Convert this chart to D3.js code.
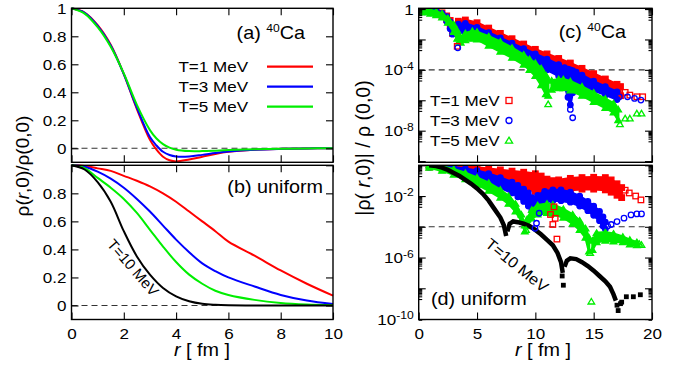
<!DOCTYPE html>
<html><head><meta charset="utf-8">
<script src="https://cdn.jsdelivr.net/npm/d3@7"></script>
<style>
body{margin:0;background:#fff}
svg{display:block}
text{font-family:"Liberation Sans",Arial,Helvetica,sans-serif;fill:#000}
</style></head>
<body><svg id="c" width="692" height="369"></svg>
<script>
// ---------------- DATA ----------------
// (a) 40Ca, rho(r,0)/rho(0,0)
const rA   = [0,0.5,1,1.5,2,2.5,3,3.25,3.5,3.75,4,4.5,5,5.5,6,7,8,9,10];
const caT1 = [1,0.97,0.88,0.74,0.53,0.28,0.06,-0.01,-0.06,-0.085,-0.094,-0.08,-0.06,-0.04,-0.025,-0.01,-0.004,-0.001,0];
const caT3 = [1,0.968,0.875,0.735,0.53,0.29,0.08,0.02,-0.025,-0.048,-0.058,-0.058,-0.047,-0.034,-0.023,-0.01,-0.004,-0.001,0];
const caT5 = [1,0.962,0.865,0.725,0.535,0.31,0.13,0.07,0.03,0.005,-0.01,-0.02,-0.02,-0.017,-0.013,-0.007,-0.003,-0.001,0];
// (b) uniform
const rB    = [0,0.5,1,1.5,2,2.5,3,3.5,4,4.5,5,5.5,6,7,8,9,10];
const uT1   = [1,0.995,0.978,0.96,0.925,0.89,0.85,0.8,0.74,0.67,0.6,0.53,0.455,0.355,0.25,0.155,0.07];
const uT3   = [1,0.99,0.955,0.905,0.84,0.76,0.67,0.57,0.47,0.38,0.3,0.245,0.2,0.135,0.075,0.035,0.01];
const uT5   = [1,0.98,0.91,0.84,0.76,0.66,0.54,0.42,0.31,0.22,0.155,0.105,0.075,0.04,0.018,0.007,0.002];
const uT10  = [1,0.97,0.88,0.74,0.53,0.35,0.22,0.125,0.065,0.03,0.012,0.005,0.002,0,0,0,0];
const legendT = ["T=1 MeV","T=3 MeV","T=5 MeV"];
const colors  = ["#ff0000","#0000ff","#00ee00"];

// (c),(d): log10 of |rho(r,0)|/rho(0,0); bands are [r, upper, lower], isolated points are [r, value]
const cRedA   = [[0,0,-0.12],[0.5,-0.02,-0.15],[1,-0.06,-0.2],[1.5,-0.12,-0.3],[2,-0.25,-0.45],[2.4,-0.45,-0.7],[2.7,-0.75,-1.1],[2.9,-1.1,-1.6]];
const cRedB   = [[3.4,-0.8,-1.3],[4,-0.72,-1.4],[5,-0.9,-1.6],[6,-1.25,-1.95],[7,-1.6,-2.3],[8,-1.95,-2.65],[9,-2.3,-3.0],[10,-2.65,-3.35],[11,-2.95,-3.65],[12,-3.25,-3.95],[13,-3.55,-4.25],[14,-3.9,-4.6],[15,-4.25,-4.95],[16,-4.6,-5.3],[17,-4.95,-5.6],[17.3,-5.1,-5.7]];
const cRedIso = [[3.3,-2.45],[17.7,-5.48],[18.1,-5.66],[18.7,-5.77],[19.2,-5.77]];
const cBlueA  = [[0,0,-0.15],[0.5,-0.03,-0.18],[1,-0.07,-0.25],[1.5,-0.13,-0.35],[2,-0.28,-0.5],[2.4,-0.5,-0.8],[2.7,-0.85,-1.3],[2.9,-1.2,-1.65]];
const cBlueB  = [[3.4,-1.0,-1.5],[4,-0.95,-1.6],[5,-1.2,-1.9],[6,-1.55,-2.25],[7,-1.9,-2.6],[8,-2.25,-2.95],[9,-2.6,-3.3],[10,-2.95,-3.65],[11,-3.3,-4.0],[12,-3.65,-4.4],[12.5,-3.85,-5.0],[12.8,-3.95,-5.8],[13.0,-4.0,-6.3],[13.2,-4.05,-5.5],[13.5,-4.15,-4.9],[14,-4.35,-5.0],[15,-4.75,-5.35],[16,-5.1,-5.65],[17,-5.45,-5.95]];
const cBlueIso= [[3.35,-2.55],[13.0,-6.6],[13.2,-7.15],[17.2,-5.77],[17.9,-5.77],[18.5,-5.88],[19.05,-5.99]];
const cGreenA = [[0,0,-0.2],[0.5,-0.04,-0.22],[1,-0.08,-0.3],[1.5,-0.15,-0.4],[2,-0.3,-0.55],[2.5,-0.6,-0.9],[3,-1.0,-1.5],[3.3,-1.4,-1.95],[3.45,-1.8,-2.15]];
const cGreenB = [[3.6,-1.85,-2.2],[4,-1.6,-2.05],[4.6,-1.45,-1.95],[5,-1.5,-2.0],[6,-1.8,-2.4],[7,-2.15,-2.8],[8,-2.55,-3.2],[9,-3.0,-3.65],[9.5,-3.3,-4.0],[10,-3.55,-4.4],[10.5,-3.9,-5.0],[10.9,-4.35,-5.6],[11.1,-4.65,-5.7]];
const cGreenC = [[11.4,-4.7,-5.3],[12,-4.62,-5.2],[12.4,-4.62,-5.2],[13,-4.75,-5.35],[14,-5.1,-5.7],[15,-5.5,-6.1],[16,-5.9,-6.5],[16.7,-6.2,-6.8],[17.1,-6.6,-7.3]];
const cGreenIso=[[11.1,-6.25],[17.25,-7.57],[17.7,-7.19],[18.1,-7.19],[18.7,-6.86],[19.1,-6.86]];

const dRed    = [[0.9,0,-0.12],[2,-0.02,-0.2],[3,-0.05,-0.35],[4,-0.1,-0.5],[5,-0.15,-0.7],[6,-0.22,-0.9],[7,-0.3,-1.1],[8,-0.38,-1.3],[9,-0.45,-1.5],[10,-0.55,-1.7],[10.5,-0.7,-1.8],[11,-0.9,-1.95],[11.5,-1.0,-2.0],[12,-0.95,-1.8],[13,-0.85,-1.6],[14,-0.8,-1.55],[15,-0.78,-1.55],[16,-0.8,-1.6],[16.5,-0.95,-1.75],[17,-1.2,-1.95],[17.4,-1.45,-2.1]];
const dRedIso = [[11.3,-3.2],[11.5,-3.85],[11.7,-3.45],[11.85,-4.8],[11.6,-2.7],[17.7,-1.62],[18.05,-1.8],[18.6,-2.0],[19.05,-2.25]];
const dBlueA  = [[0.9,0,-0.12],[2,-0.05,-0.25],[3,-0.12,-0.45],[4,-0.22,-0.65],[5,-0.35,-0.9],[6,-0.55,-1.15],[7,-0.8,-1.45],[8,-1.1,-1.8],[8.5,-1.3,-2.05],[9,-1.55,-2.35],[9.4,-1.8,-2.65],[9.7,-2.1,-2.95]];
const dBlueB  = [[9.9,-2.2,-2.9],[10.2,-1.95,-2.6],[10.8,-1.7,-2.4],[11.5,-1.6,-2.3],[12.2,-1.6,-2.3],[13,-1.75,-2.4],[13.8,-2.0,-2.65],[14.5,-2.35,-2.95],[15,-2.65,-3.25],[15.5,-3.0,-3.6],[15.8,-3.35,-3.95],[16.0,-3.7,-4.15]];
const dBlueIso= [[9.97,-4.1],[10.1,-3.77],[10.33,-3.12],[16.2,-3.95],[16.5,-3.85],[17,-3.66],[17.6,-3.44],[18.2,-3.23],[18.7,-3.16],[19.1,-3.16]];
const dGreenA = [[0.9,0,-0.15],[2,-0.08,-0.35],[3,-0.25,-0.6],[4,-0.5,-0.9],[5,-0.8,-1.25],[6,-1.15,-1.65],[7,-1.6,-2.1],[7.7,-2.0,-2.5],[8.3,-2.5,-3.0],[8.8,-3.2,-3.6],[9.1,-3.9,-4.3]];
const dGreenB = [[9.3,-3.5,-3.95],[9.7,-2.9,-3.45],[10.2,-2.6,-3.2],[11,-2.5,-3.1],[11.5,-2.55,-3.15],[12.4,-2.85,-3.4],[13.2,-3.2,-3.8],[13.8,-3.6,-4.2],[14.3,-4.1,-4.7],[14.6,-4.7,-5.6]];
const dGreenC = [[14.9,-4.9,-5.5],[15.25,-4.4,-5.0],[16,-4.35,-4.9],[16.7,-4.45,-4.95],[17.5,-4.65,-5.0],[18.1,-4.85,-5.15],[18.7,-5.0,-5.2]];
const dGreenIso=[[9.2,-4.2],[14.7,-5.7],[14.8,-8.86],[18.9,-5.1],[19.1,-5.17]];
const dBlack1 = [[0.9,0],[1.5,-0.05],[2,-0.15],[2.5,-0.3],[3,-0.5],[3.5,-0.7],[4,-0.95],[4.5,-1.2],[5,-1.5],[5.5,-1.85],[6,-2.3],[6.5,-2.85],[7,-3.4],[7.3,-3.9],[7.5,-4.6]];
const dBlack2 = [[7.6,-4.3],[7.8,-3.8],[8.1,-3.65],[8.5,-3.7],[9,-3.8],[9.5,-3.95],[10,-4.2],[10.5,-4.5],[11,-4.85],[11.5,-5.2],[11.9,-5.7],[12.2,-6.3],[12.35,-7.0]];
const dBlack3 = [[12.5,-6.6],[12.7,-6.2],[13,-6.05],[13.5,-6.1],[14,-6.3],[14.5,-6.55],[15,-6.85],[15.5,-7.2],[16,-7.55],[16.4,-7.9],[16.7,-8.4],[16.9,-8.8]];
const dBlackIso=[[12.3,-7.2],[12.4,-7.8],[17.0,-9.1],[17.1,-9.45],[17.3,-9.0],[17.4,-8.9],[17.8,-8.55],[18.4,-8.55],[19.0,-8.42]];

const xTicksL = [0,2,4,6,8,10];
const yTicksA = [0,0.2,0.4,0.6,0.8,1];
const yTicksB = [0,0.2,0.4,0.6,0.8,1];
const xTicksR = [0,5,10,15,20];
const logMajor = [0,-2,-4,-6,-8,-10];
const logLabC = [0,-4,-8];
const logLabD = [-2,-6,-10];

// ---------------- SCALES ----------------
const svg = d3.select("#c");
const xL = d3.scaleLinear([0,10],[71.5,333]);
const xR = d3.scaleLinear([0,20],[418.7,652]);
const yA = d3.scaleLinear([-0.1,1],[162.3,8.3]);
const yB = d3.scaleLinear([-0.1,1],[319.5,165.3]);
const yC = d3.scaleLinear([-10.08,0.05],[162.3,8.3]);
const yD = d3.scaleLinear([-10.03,0],[319.5,165.3]);

const FS = 15.5;
function stretch(sel, sx){
  sel.selectAll("text").each(function(){
    const t=d3.select(this);
    const x=+(t.attr("x")||0), y=+(t.attr("y")||0);
    t.attr("x",null).attr("y",null).attr("transform",`translate(${x},${y}) scale(${sx},1)`);
  });
}
function txt(x,y,size,anchor,rot=0,sx=1.1){
  return svg.append("text").attr("transform",`translate(${x},${y}) rotate(${rot}) scale(${sx},1)`)
    .attr("text-anchor",anchor).attr("font-size",size);
}

function frame(x,y,xt,yt,opts){
  const [x0,x1]=x.range(), [yb,yt0]=y.range();
  const g = svg.append("g");
  const gb = g.append("g").attr("transform",`translate(0,${yb})`)
    .call(d3.axisBottom(x).tickValues(xt).tickSize(-7).tickPadding(8).tickFormat(opts.xlab?d3.format("d"):""));
  g.append("g").attr("transform",`translate(0,${yt0})`)
    .call(d3.axisTop(x).tickValues(xt).tickSize(-7).tickFormat(""));
  const gl = g.append("g").attr("transform",`translate(${x0},0)`)
    .call(d3.axisLeft(y).tickValues(yt).tickSize(-7).tickPadding(5).tickFormat(opts.yfmt||""));
  g.append("g").attr("transform",`translate(${x1},0)`)
    .call(d3.axisRight(y).tickValues(yt).tickSize(-7).tickFormat(""));
  if(opts.minor){
    g.append("g").attr("transform",`translate(${x0},0)`).call(d3.axisLeft(y).tickValues(opts.minor).tickSize(-3.5).tickFormat(""));
    g.append("g").attr("transform",`translate(${x1},0)`).call(d3.axisRight(y).tickValues(opts.minor).tickSize(-3.5).tickFormat(""));
  }
  g.selectAll(".domain").remove();
  g.selectAll(".tick line").attr("stroke","#000").attr("stroke-width",1.1);
  g.selectAll("text").attr("font-size",FS).attr("font-family","Liberation Sans, Arial, sans-serif").attr("fill","#000");
  stretch(gb,1.1); stretch(gl,1.1);
  g.append("rect").attr("x",x0).attr("y",yt0).attr("width",x1-x0).attr("height",yb-yt0)
    .attr("fill","none").attr("stroke","#000").attr("stroke-width",1.4);
  return gl;
}

// ---------------- (a) ----------------
const lineA = d3.line().curve(d3.curveCatmullRom.alpha(0.5));
function dashed(x,y,v){
  svg.append("line").attr("x1",x.range()[0]).attr("x2",x.range()[1]).attr("y1",y(v)).attr("y2",y(v))
   .attr("stroke","#333").attr("stroke-width",1.1).attr("stroke-dasharray","6,4");
}
dashed(xL,yA,0);
[caT1,caT3,caT5].forEach((s,i)=>{
  svg.append("path").attr("d",lineA(rA.map((r,j)=>[xL(r),yA(s[j])])))
    .attr("fill","none").attr("stroke",colors[i]).attr("stroke-width",2);
});
frame(xL,yA,xTicksL,yTicksA,{xlab:false,yfmt:d=>d===0?"0":d===1?"1":d3.format(".1f")(d)});
legendT.forEach((t,i)=>{
  const yy = 66.7 + 20*i;
  txt(248,yy+5.5,FS,"end").text(t);
  svg.append("line").attr("x1",267).attr("x2",313).attr("y1",yy).attr("y2",yy)
    .attr("stroke",colors[i]).attr("stroke-width",2.2);
});
{ const t=txt(305,39,18,"end"); t.append("tspan").text("(a) "); t.append("tspan").attr("font-size",11).attr("dy",-7).text("40"); t.append("tspan").attr("dy",7).text("Ca"); }

// ---------------- (b) ----------------
dashed(xL,yB,0);
[uT1,uT3,uT5,uT10].forEach((s,i)=>{
  svg.append("path").attr("d",lineA(rB.map((r,j)=>[xL(r),yB(s[j])])))
    .attr("fill","none").attr("stroke",i<3?colors[i]:"#000").attr("stroke-width",2);
});
frame(xL,yB,xTicksL,yTicksB,{xlab:true,yfmt:d=>d===0?"0":d===1?"":d3.format(".1f")(d)});
txt(323,193,18,"end").text("(b) uniform");
txt(129,271,15,"middle",49,1.0).text("T=10 MeV");

// ---------------- (c),(d) ----------------
svg.append("clipPath").attr("id","clipC").append("rect").attr("x",418.7).attr("y",8.3).attr("width",652-418.7).attr("height",162.3-8.3);
svg.append("clipPath").attr("id","clipD").append("rect").attr("x",418.7).attr("y",165.3).attr("width",652-418.7).attr("height",319.5-165.3);

function marker(g,type,x,y,color,filled,s){
  const f = filled?color:"none";
  if(type==="sq") g.append("rect").attr("x",x-s/2).attr("y",y-s/2).attr("width",s).attr("height",s).attr("fill",f).attr("stroke",color).attr("stroke-width",1.3);
  else if(type==="ci") g.append("circle").attr("cx",x).attr("cy",y).attr("r",s/2).attr("fill",f).attr("stroke",color).attr("stroke-width",1.3);
  else if(type==="tr") g.append("path").attr("d",`M${x},${y-s*0.55}L${x+s*0.6},${y+s*0.45}L${x-s*0.6},${y+s*0.45}Z`).attr("fill",f).attr("stroke",color).attr("stroke-width",1.3);
}
function band(g,y,data,color,type){
  const area = d3.area().x(d=>xR(d[0])).y1(d=>y(d[1])).y0(d=>y(d[2]));
  g.append("path").attr("d",area(data)).attr("fill",color).attr("stroke",color).attr("stroke-width",2.5);
  data.forEach(d=>{ marker(g,type,xR(d[0]),y(d[1]),color,true,5.5); marker(g,type,xR(d[0]),y(d[2]),color,true,5.5); });
}
function iso(g,y,data,color,type,filled=false,s=5.5){
  data.forEach(d=>marker(g,type,xR(d[0]),y(d[1]),color,filled,s));
}
const minors = [];
logMajor.forEach(k=>{ for(let m=2;m<=9;m++){ const v=k-1+Math.log10(m); if(v>=-10.08) minors.push(v);} });

// (c)
dashed(xR,yC,-4);
const gC = svg.append("g").attr("clip-path","url(#clipC)");
band(gC,yC,cRedA,colors[0],"sq"); band(gC,yC,cRedB,colors[0],"sq");
band(gC,yC,cBlueA,colors[1],"ci"); band(gC,yC,cBlueB,colors[1],"ci");
band(gC,yC,cGreenA,colors[2],"tr"); band(gC,yC,cGreenB,colors[2],"tr"); band(gC,yC,cGreenC,colors[2],"tr");
iso(gC,yC,cRedIso,colors[0],"sq"); iso(gC,yC,cBlueIso,colors[1],"ci"); iso(gC,yC,cGreenIso,colors[2],"tr");
function supLabels(gl){
  gl.selectAll(".tick text").each(function(d){
    const t=d3.select(this); const s=t.text(); if(!s) return;
    t.text(null);
    if(d===0){ t.append("tspan").text("1"); return; }
    t.append("tspan").text("10");
    t.append("tspan").attr("font-size",11).attr("dy","-0.5em").text(String(d));
  });
}
const lfC = frame(xR,yC,xTicksR,logMajor,{xlab:false,minor:minors,yfmt:d=>logLabC.includes(d)?"L":""});
supLabels(lfC);
{ const t=txt(626,38,18,"end"); t.append("tspan").text("(c) "); t.append("tspan").attr("font-size",11).attr("dy",-7).text("40"); t.append("tspan").attr("dy",7).text("Ca"); }
const mk = ["sq","ci","tr"];
legendT.forEach((t,i)=>{
  txt(430,106+20*i,FS,"start").text(t);
  marker(svg,mk[i],509,100.5+20*i,colors[i],false,6);
});

// (d)
dashed(xR,yD,-4);
const gD = svg.append("g").attr("clip-path","url(#clipD)");
band(gD,yD,dRed,colors[0],"sq");
band(gD,yD,dBlueA,colors[1],"ci"); band(gD,yD,dBlueB,colors[1],"ci");
band(gD,yD,dGreenA,colors[2],"tr"); band(gD,yD,dGreenB,colors[2],"tr"); band(gD,yD,dGreenC,colors[2],"tr");
const lineB = d3.line();
[dBlack1,dBlack2,dBlack3].forEach(s=>{
  gD.append("path").attr("d",lineB(s.map(d=>[xR(d[0]),yD(d[1])]))).attr("fill","none").attr("stroke","#000").attr("stroke-width",4.5);
});
iso(gD,yD,dRedIso,colors[0],"sq"); iso(gD,yD,dBlueIso,colors[1],"ci"); iso(gD,yD,dGreenIso,colors[2],"tr");
iso(gD,yD,dBlackIso,"#000","sq",true,3.5);
const lfD = frame(xR,yD,xTicksR,logMajor,{xlab:true,minor:minors,yfmt:d=>logLabD.includes(d)?"L":""});
supLabels(lfD);
txt(431,305,18,"start").text("(d) uniform");
txt(513.5,269.4,15.5,"middle",39,1.05).text("T=10 MeV");

// ---------------- axis titles ----------------
{ const t=txt(202,356,18,"middle"); t.append("tspan").attr("font-style","italic").text("r"); t.append("tspan").text(" [ fm ]"); }
{ const t=txt(543,356,18,"middle"); t.append("tspan").attr("font-style","italic").text("r"); t.append("tspan").text(" [ fm ]"); }
{ const t=txt(29,166,19,"middle",-90,1); t.append("tspan").text("ρ("); t.append("tspan").attr("font-style","italic").text("r"); t.append("tspan").text(",0)/ρ(0,0)"); }
{ const t=txt(370,148,19.5,"middle",-90,1); t.append("tspan").text("|ρ("); t.append("tspan").attr("font-style","italic").text(" r"); t.append("tspan").text(",0)| / ρ (0,0)"); }
</script>
</body></html>
